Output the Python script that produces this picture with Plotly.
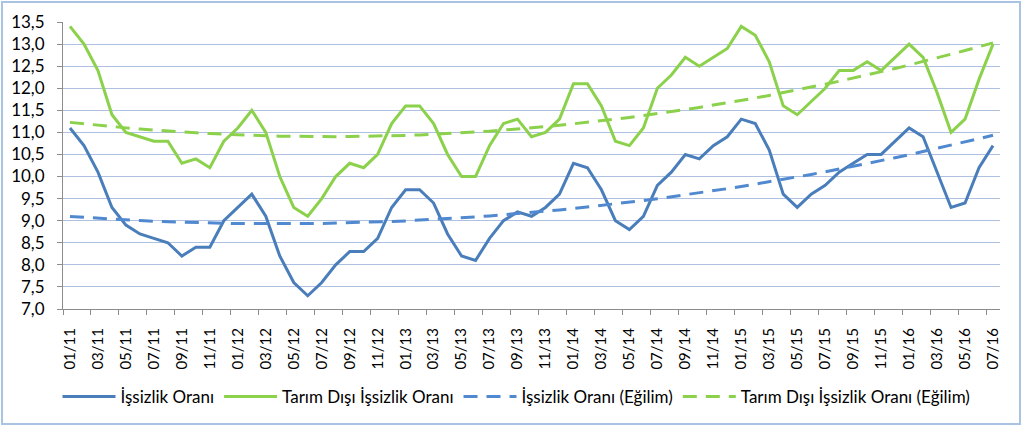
import numpy as np
import plotly.graph_objects as go

# Months 01/2011 .. 07/2016
months = [f"{m:02d}/{y:02d}" for y in range(11, 17) for m in range(1, 13)][:67]

issizlik = [11.1, 10.7, 10.1, 9.3, 8.9, 8.7, 8.6, 8.5, 8.2, 8.4, 8.4, 9.0,
            9.3, 9.6, 9.1, 8.2, 7.6, 7.3, 7.6, 8.0, 8.3, 8.3, 8.6, 9.3,
            9.7, 9.7, 9.4, 8.7, 8.2, 8.1, 8.6, 9.0, 9.2, 9.1, 9.3, 9.6,
            10.3, 10.2, 9.7, 9.0, 8.8, 9.1, 9.8, 10.1, 10.5, 10.4, 10.7, 10.9,
            11.3, 11.2, 10.6, 9.6, 9.3, 9.6, 9.8, 10.1, 10.3, 10.5, 10.5, 10.8,
            11.1, 10.9, 10.1, 9.3, 9.4, 10.2, 10.7]

tarim_disi = [13.4, 13.0, 12.4, 11.4, 11.0, 10.9, 10.8, 10.8, 10.3, 10.4, 10.2, 10.8,
              11.1, 11.5, 11.0, 10.0, 9.3, 9.1, 9.5, 10.0, 10.3, 10.2, 10.5, 11.2,
              11.6, 11.6, 11.2, 10.5, 10.0, 10.0, 10.7, 11.2, 11.3, 10.9, 11.0, 11.3,
              12.1, 12.1, 11.6, 10.8, 10.7, 11.1, 12.0, 12.3, 12.7, 12.5, 12.7, 12.9,
              13.4, 13.2, 12.6, 11.6, 11.4, 11.7, 12.0, 12.4, 12.4, 12.6, 12.4, 12.7,
              13.0, 12.7, 11.9, 11.0, 11.3, 12.2, 13.0]

names = ["İşsizlik Oranı", "Tarım Dışı İşsizlik Oranı",
         "İşsizlik Oranı (Eğilim)", "Tarım Dışı İşsizlik Oranı (Eğilim)"]

y_ticks = [7.0 + 0.5 * k for k in range(14)]

idx = np.arange(len(months))
# Excel-style polynomial (order 2) trendlines computed from the data
trend_a = np.polyval(np.polyfit(idx, issizlik, 2), idx)
trend_b = np.polyval(np.polyfit(idx, tarim_disi, 2), idx)

BLUE = "#4A7EBB"
GREEN = "#8CD14B"
BLUE_D = "#5089CF"
GREEN_D = "#8CD14B"
FONT = "Lato"
DASH = "14px,9px"

fig = go.Figure()
fig.add_trace(go.Scatter(x=idx, y=issizlik, mode="lines", name=names[0],
                         line=dict(color=BLUE, width=3)))
fig.add_trace(go.Scatter(x=idx, y=tarim_disi, mode="lines", name=names[1],
                         line=dict(color=GREEN, width=3)))
fig.add_trace(go.Scatter(x=idx, y=trend_a, mode="lines", name=names[2],
                         line=dict(color=BLUE_D, width=3, dash=DASH)))
fig.add_trace(go.Scatter(x=idx, y=trend_b, mode="lines", name=names[3],
                         line=dict(color=GREEN_D, width=3, dash=DASH)))

fig.update_layout(
    width=1023, height=426,
    margin=dict(l=63, r=23, t=22, b=117, autoexpand=False),
    paper_bgcolor="white", plot_bgcolor="white",
    separators=", ",
    font=dict(family=FONT, size=16, color="#000000"),
    showlegend=True,
    legend=dict(orientation="h", x=0.484, xanchor="center",
                yref="container", y=1 - 397 / 426, yanchor="middle",
                font=dict(family=FONT, size=17, color="#000000"),
                itemwidth=53, tracegroupgap=0),
    xaxis=dict(
        range=[-0.5, len(months) - 0.5],
        tickmode="array", tickvals=idx[::2].tolist(), ticktext=months[::2],
        tickangle=-90, ticks="", showgrid=False,
        showline=True, linecolor="#8C8C8C", linewidth=1,
        tickfont=dict(family=FONT, size=15), ticklabelstandoff=12,
        minor=dict(tick0=-0.5, dtick=2, ticks="outside", ticklen=5,
                   tickcolor="#8C8C8C", showgrid=False),
        zeroline=False, automargin=False,
    ),
    yaxis=dict(
        range=[7.0, 13.5], tickmode="array", tickvals=y_ticks,
        tickformat=".1f", ticks="outside", ticklen=5, tickcolor="#8C8C8C",
        showline=True, linecolor="#8C8C8C", linewidth=1,
        showgrid=True, gridcolor="#AFC1E0", gridwidth=1,
        tickfont=dict(family=FONT, size=17), ticklabelstandoff=9,
        zeroline=False, automargin=False,
    ),
    shapes=[dict(type="rect", xref="paper", yref="paper",
                 x0=-61 / 937, x1=1 + 20 / 937, y0=-115 / 287, y1=1 + 20 / 287,
                 line=dict(color="#A9C3E3", width=2), fillcolor="rgba(0,0,0,0)",
                 layer="below")],
)

fig.write_html("out.html", config={"displayModeBar": False},
               post_script="document.body.style.margin='0';document.body.style.overflow='hidden';")
